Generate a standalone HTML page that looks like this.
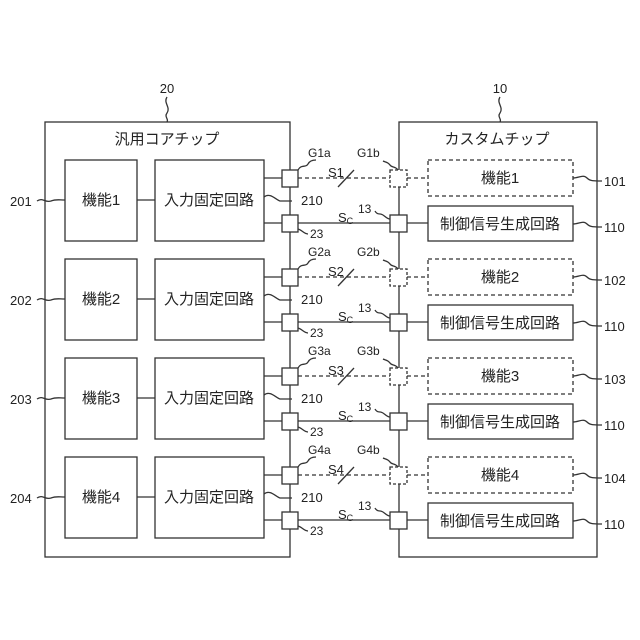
<!DOCTYPE html>
<html><head><meta charset="utf-8"><style>
html,body{margin:0;padding:0;background:#fff}
svg{display:block}
text{font-family:"Liberation Sans","Noto Sans CJK JP",sans-serif;fill:#222}
</style></head><body>
<svg id="s" width="640" height="640" xmlns="http://www.w3.org/2000/svg" stroke="#333" stroke-width="1.3" fill="none">
<rect x="45" y="122" width="245" height="435" fill="#fff"/>
<rect x="399" y="122" width="198" height="435" fill="#fff"/>
<text x="167" y="144" font-size="15" text-anchor="middle" stroke="none">汎用コアチップ</text>
<text x="497" y="144" font-size="15" text-anchor="middle" stroke="none">カスタムチップ</text>
<text x="167" y="93" font-size="13" text-anchor="middle" stroke="none">20</text>
<text x="500" y="93" font-size="13" text-anchor="middle" stroke="none">10</text>
<path d="M167,97 c-4,6 4,10 0,16 c-3,4 2,6 0,9"/>
<path d="M500,97 c-4,6 4,10 0,16 c-3,4 2,6 0,9"/>
</svg>
<script>
var s=document.getElementById('s'),h='';
for(var k=0;k<4;k++){var d=99*k,n=k+1;
h+='<rect x="65" y="'+(160+d)+'" width="72" height="81"/>';
h+='<text x="101" y="'+(205+d)+'" font-size="15" text-anchor="middle" stroke="none">機能'+n+'</text>';
h+='<rect x="155" y="'+(160+d)+'" width="109" height="81"/>';
h+='<text x="209" y="'+(205+d)+'" font-size="15" text-anchor="middle" stroke="none">入力固定回路</text>';
h+='<line x1="137" y1="'+(200+d)+'" x2="155" y2="'+(200+d)+'"/>';
h+='<line x1="264" y1="'+(178+d)+'" x2="282" y2="'+(178+d)+'"/><line x1="264" y1="'+(223+d)+'" x2="282" y2="'+(223+d)+'"/>';
h+='<line x1="298" y1="'+(178+d)+'" x2="390" y2="'+(178+d)+'" stroke-dasharray="4,3"/>';
h+='<line x1="298" y1="'+(223+d)+'" x2="390" y2="'+(223+d)+'"/>';
h+='<line x1="407" y1="'+(178+d)+'" x2="428" y2="'+(178+d)+'" stroke-dasharray="4,3"/>';
h+='<line x1="407" y1="'+(223+d)+'" x2="428" y2="'+(223+d)+'"/>';
h+='<rect x="282" y="'+(170+d)+'" width="16" height="17" fill="#fff"/>';
h+='<rect x="282" y="'+(215+d)+'" width="16" height="17" fill="#fff"/>';
h+='<rect x="390" y="'+(170+d)+'" width="17" height="17" fill="#fff" stroke-dasharray="3,2"/>';
h+='<rect x="390" y="'+(215+d)+'" width="17" height="17" fill="#fff"/>';
h+='<rect x="428" y="'+(160+d)+'" width="145" height="36" stroke-dasharray="4,3"/>';
h+='<text x="500" y="'+(183+d)+'" font-size="15" text-anchor="middle" stroke="none">機能'+n+'</text>';
h+='<rect x="428" y="'+(206+d)+'" width="145" height="35"/>';
h+='<text x="500" y="'+(229+d)+'" font-size="15" text-anchor="middle" stroke="none">制御信号生成回路</text>';
h+='<line x1="338" y1="'+(187+d)+'" x2="354" y2="'+(170+d)+'"/>';
h+='<text x="328" y="'+(177+d)+'" font-size="13" stroke="none">S'+n+'</text>';
h+='<text x="338" y="'+(222+d)+'" font-size="13" stroke="none">S<tspan font-size="9" dy="2">C</tspan></text>';
h+='<text x="308" y="'+(157+d)+'" font-size="12" stroke="none">G'+n+'a</text>';
h+='<text x="357" y="'+(157+d)+'" font-size="12" stroke="none">G'+n+'b</text>';
h+='<path d="M298,'+(170+d)+' c3,-6 8,-2 10,-6 c2,-4 6,-4 8,-4"/>';
h+='<path d="M398,'+(170+d)+' c-3,-4 -6,-2 -8,-5 c-2,-3 -5,-3 -7,-4"/>';
h+='<path d="M264,'+(197+d)+' c6,-5 12,3 16,4 l12,0"/>';
h+='<text x="301" y="'+(205+d)+'" font-size="13" stroke="none">210</text>';
h+='<path d="M298,'+(229+d)+' c4,1 6,5 10,5"/>';
h+='<text x="310" y="'+(238+d)+'" font-size="12" stroke="none">23</text>';
h+='<path d="M390,'+(219+d)+' c-4,0 -6,-5 -10,-5 c-2,0 -4,-1 -5,-3"/>';
h+='<text x="358" y="'+(213+d)+'" font-size="12" stroke="none">13</text>';
h+='<path d="M37,'+(201+d)+' c6,-4 8,2 14,0 c5,-2 8,-1 14,-1"/>';
h+='<text x="10" y="'+(206+d)+'" font-size="13" stroke="none">20'+n+'</text>';
h+='<path d="M573,'+(178+d)+' c6,0 10,-4 14,0 c3,3 6,3 15,3"/>';
h+='<text x="604" y="'+(186+d)+'" font-size="13" stroke="none">10'+n+'</text>';
h+='<path d="M573,'+(224+d)+' c6,0 10,-4 14,0 c3,3 6,3 15,3"/>';
h+='<text x="604" y="'+(232+d)+'" font-size="13" stroke="none">110</text>';
}
s.insertAdjacentHTML('beforeend',h);
</script>
</body></html>
